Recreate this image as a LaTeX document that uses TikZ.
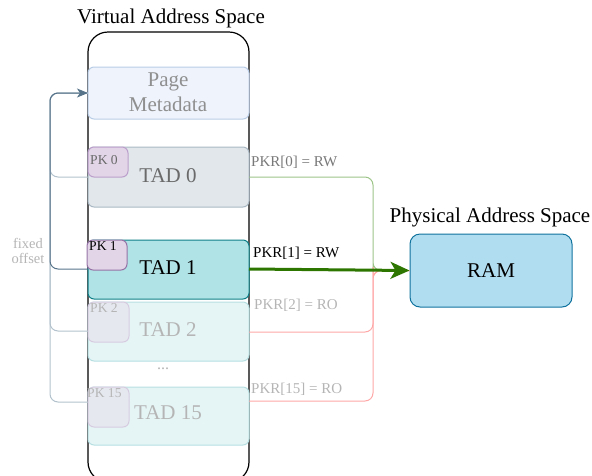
\documentclass[tikz,border=0pt]{standalone}
\usepackage{fontspec}
\setmainfont{Liberation Serif}
\usetikzlibrary{arrows.meta}
\definecolor{pmfill}{HTML}{EEF3FC}
\definecolor{pmdraw}{HTML}{BACDE6}
\definecolor{t0fill}{HTML}{E1E7EB}
\definecolor{t0draw}{HTML}{AAB9C4}
\definecolor{pkfill}{HTML}{E1D5E7}
\definecolor{pkdraw}{HTML}{9673A6}
\definecolor{pkfdraw}{HTML}{BC9FCB}
\definecolor{t1fill}{HTML}{B0E3E6}
\definecolor{t1draw}{HTML}{0E8088}
\definecolor{tffill}{HTML}{E5F5F6}
\definecolor{tfdraw}{HTML}{B7DFE2}
\definecolor{pkffill}{HTML}{E6E8F0}
\definecolor{pkffdraw}{HTML}{D6CCE0}
\definecolor{ramfill}{HTML}{B1DDF0}
\definecolor{ramdraw}{HTML}{10739E}
\definecolor{gstrong}{HTML}{2D7600}
\definecolor{gfaint}{HTML}{9CC489}
\definecolor{rfaint}{HTML}{FFA8A8}
\definecolor{lstrong}{HTML}{56738A}
\definecolor{lfaint}{HTML}{B2C1CC}
\definecolor{txtgray}{HTML}{6A6A6A}
\definecolor{txtfaint}{HTML}{B5B5B5}
\tikzset{
  x=1pt, y=-1pt,
  box/.style={rounded corners=6pt, line width=1pt, inner sep=0pt},
  big/.style={font=\fontsize{21}{24}\selectfont},
  lab/.style={font=\fontsize{15}{16}\selectfont, inner sep=0pt, anchor=west},
  pk/.style={font=\fontsize{13.6}{14}\selectfont, inner sep=0pt, anchor=north west},
  conn/.style={rounded corners=8pt, line width=1pt},
}
\begin{document}
\begin{tikzpicture}
\useasboundingbox (0,0) rectangle (592,475);
% container
\draw[line width=1.2pt, rounded corners=20pt] (88,32) rectangle (249,482);
\node[font=\fontsize{21}{24}\selectfont] (vtitle) at (171,18) {Virtual Address Space};

% left connectors (faint first)
\coordinate (pmin) at (88,93);
\draw[conn, lfaint] (88,177) -| (50,93) -- (pmin);
\draw[conn, lfaint] (88,331) -| (50,93) -- (pmin);
\draw[conn, lfaint] (88,402) -| (50,93) -- (pmin);
\draw[conn, lstrong, -{Stealth[length=11pt,width=9pt,inset=3pt]}] (88,269) -| (50,93) -- (pmin);

% page metadata
\draw[box, draw=pmdraw, fill=pmfill] (88,67) rectangle (249,119);
\node[big, text=txtgray!75, align=center] (pm) at (168,92) {Page\\[1pt]Metadata};

% TAD 0
\draw[box, draw=t0draw, fill=t0fill] (88,147) rectangle (249,207);
\node[big, text=txtgray] (tad0) at (168,176) {TAD 0};
\draw[box, draw=pkfdraw, fill=pkfill] (88,147) rectangle (128,177);
\node[pk, text=txtgray] (pk0) at (90,155) {PK 0};

% TAD 2
\draw[box, draw=tfdraw, fill=tffill] (88,302) rectangle (249,361);
\node[big, text=txtfaint] (tad2) at (168,330) {TAD 2};
\draw[box, draw=pkffdraw, fill=pkffill] (88,302) rectangle (129,342);
\node[pk, text=txtfaint] (pk2) at (90,303) {PK 2};

% TAD 1
\draw[box, draw=t1draw, fill=t1fill] (88,240) rectangle (249,299);
\node[big, text=black] (tad1) at (168,268) {TAD 1};
\draw[box, draw=pkdraw, fill=pkfill] (87,240) rectangle (127,270);
\node[pk, text=black] (pk1) at (89,241) {PK 1};

\node[font=\fontsize{16}{16}\selectfont, text=txtfaint] (dots) at (163,369) {...};

% TAD 15
\draw[box, draw=tfdraw, fill=tffill] (88,387) rectangle (249,445);
\node[big, text=txtfaint] (tad15) at (168,413) {TAD 15};
\draw[box, draw=pkffdraw, fill=pkffill] (88,387) rectangle (129,427);
\node[pk, text=txtfaint] (pk15) at (87,388) {PK 15};

% fixed offset
\node[font=\fontsize{14.5}{17}\selectfont, text=txtfaint, align=center] (fo) at (28,251) {fixed\\[-2pt]offset};

% RAM
\node[box, rounded corners=10pt, draw=ramdraw, fill=ramfill, minimum width=162pt, minimum height=73pt, big] (ram) at (491,270.5) {RAM};
\node[big] (ptitle) at (490,217) {Physical Address Space};

% right connectors
\draw[conn, gfaint] (249,177) -| (373,262) |- (ram.west);
\draw[conn, rfaint] (249,332) -| (373,275) |- (ram.west);
\draw[conn, rfaint] (249,401) -| (373,275) |- (ram.west);
\draw[line width=3pt, gstrong, -{Stealth[length=19pt,width=17pt,inset=5pt]}] (249,269) -- (ram.west);

\node[lab, text=txtgray!90] (l0) at (251,162) {PKR[0] = RW};
\node[lab, text=black] (l1) at (253,253) {PKR[1] = RW};
\node[lab, text=txtfaint] (l2) at (254,305) {PKR[2] = RO};
\node[lab, text=txtfaint] (l15) at (251,389) {PKR[15] = RO};
\end{tikzpicture}
\end{document}
